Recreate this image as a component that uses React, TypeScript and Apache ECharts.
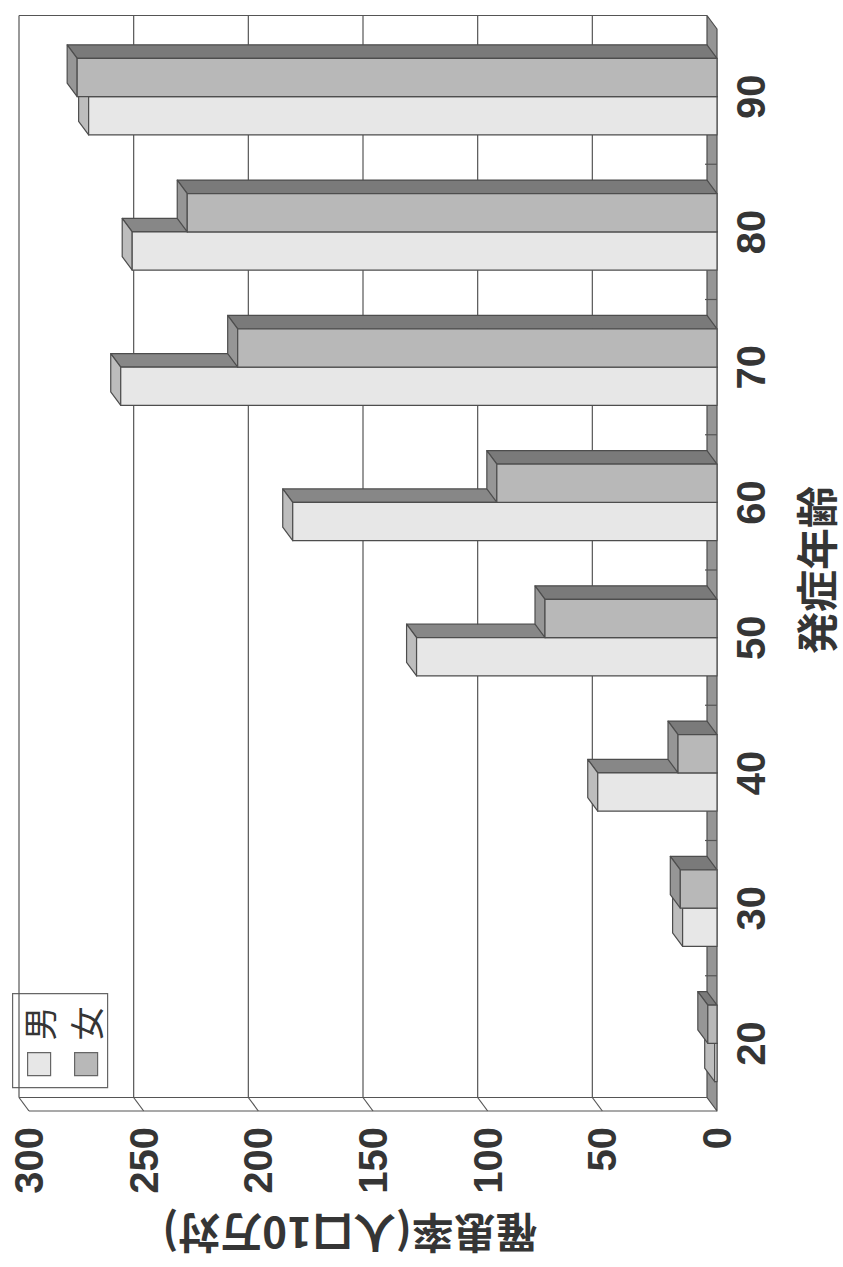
import { useEffect, useRef } from 'react';
import * as echarts from 'echarts';

// Incidence per 100,000 by age of onset
const ageGroups = ['20', '30', '40', '50', '60', '70', '80', '90'];
const maleRates = [1, 15, 52, 131, 185, 260, 255, 274];
const femaleRates = [4, 16, 17, 75, 96, 209, 231, 279];
const rateTicks = [0, 50, 100, 150, 200, 250, 300];
const seriesNames = ['男', '女'];
const ageTitle = '発症年齢';
const rateTitle = '罹患率(人口10万対)';

// oblique depth of the 3D box (towards the back wall)
const DX = -10;
const DY = -13.5;
const EDGE = '#4d4d4d';
const TEXT = '#353535';
const NUM_FONT = '"Liberation Sans", Arial, sans-serif';
const CJK_FONT = '"Noto Sans CJK JP", "Noto Sans", sans-serif';

const FACES = {
  male: { front: '#e7e7e7', end: '#bdbdbd', side: '#878787' },
  female: { front: '#b8b8b8', end: '#969696', side: '#7a7a7a' },
};

const edgeStyle = { stroke: EDGE, lineWidth: 1.2, lineJoin: 'round' as const };

function makeBarRenderer(upper: boolean, faces: { front: string; end: string; side: string }) {
  return (_params: any, api: any) => {
    const v = api.value(0);
    const cat = api.value(1);
    const base = api.coord([0, cat]);
    const tip = api.coord([v, cat]);
    const band = api.size([0, 1])[1];
    const h = band * 0.283;
    const top = upper ? base[1] - h : base[1];
    const bottom = top + h;
    const xr = base[0];
    const xl = tip[0];
    return {
      type: 'group',
      children: [
        {
          type: 'polygon',
          shape: { points: [[xl, top], [xr, top], [xr + DX, top + DY], [xl + DX, top + DY]] },
          style: { fill: faces.side, ...edgeStyle },
        },
        {
          type: 'polygon',
          shape: { points: [[xl, top], [xl, bottom], [xl + DX, bottom + DY], [xl + DX, top + DY]] },
          style: { fill: faces.end, ...edgeStyle },
        },
        {
          type: 'rect',
          shape: { x: xl, y: top, width: xr - xl, height: h },
          style: { fill: faces.front, ...edgeStyle },
        },
      ],
    };
  };
}

// back wall gridlines, side wall and the floor slab
function renderFrame(_params: any, api: any) {
  const band = api.size([0, 1])[1];
  const last = ageGroups.length - 1;
  const yTop = api.coord([0, last])[1] - band / 2;
  const yBot = api.coord([0, 0])[1] + band / 2;
  const xAt = (v: number) => api.coord([v, 0])[0];
  const x0 = xAt(0);
  const xMax = xAt(rateTicks[rateTicks.length - 1]);
  const gridStyle = { stroke: '#555555', lineWidth: 1.2 };
  const line = (x1: number, y1: number, x2: number, y2: number) => ({
    type: 'line',
    shape: { x1, y1, x2, y2 },
    style: gridStyle,
  });
  const children: any[] = [];
  children.push({
    type: 'polygon',
    shape: { points: [[x0 + DX, yTop + DY], [x0, yTop], [x0, yBot], [x0 + DX, yBot + DY]] },
    style: { fill: '#959595', ...edgeStyle },
  });
  rateTicks.forEach((v) => {
    if (v === 0) return;
    const x = xAt(v);
    children.push(line(x + DX, yTop + DY, x + DX, yBot + DY));
    children.push(line(x + DX, yBot + DY, x, yBot));
  });
  children.push(line(xMax + DX, yTop + DY, x0 + DX, yTop + DY));
  children.push(line(xMax + DX, yBot + DY, x0 + DX, yBot + DY));
  children.push(line(xMax, yBot, x0, yBot));
  for (let i = 0; i < last; i++) {
    const y = api.coord([0, i])[1] - band / 2;
    children.push(line(x0 - 12, y, x0, y));
  }
  return { type: 'group', children };
}

export default function App() {
  const ref = useRef<HTMLDivElement>(null);

  useEffect(() => {
    if (!ref.current) return;
    const chart = echarts.init(ref.current, undefined, { renderer: 'svg' });
    chart.setOption({
      animation: false,
      backgroundColor: '#ffffff',
      grid: { left: 29, right: 126, top: 29, bottom: 156, containLabel: false },
      xAxis: {
        type: 'value',
        inverse: true,
        min: 0,
        max: 300,
        interval: 50,
        axisLine: { show: false },
        axisTick: { show: false },
        splitLine: { show: false },
        axisLabel: {
          rotate: 90,
          margin: 16,
          fontSize: 40,
          fontWeight: 'bold',
          fontFamily: NUM_FONT,
          color: TEXT,
        },
      },
      yAxis: {
        type: 'category',
        data: ageGroups,
        position: 'right',
        axisLine: { show: false },
        axisTick: { show: false },
        splitLine: { show: false },
        axisLabel: {
          rotate: 90,
          margin: 14,
          fontSize: 40,
          fontWeight: 'bold',
          fontFamily: NUM_FONT,
          color: TEXT,
        },
        name: ageTitle,
        nameLocation: 'middle',
        nameRotate: 90,
        nameGap: 76,
        nameTextStyle: { fontSize: 42, fontWeight: 'bold', fontFamily: CJK_FONT, color: TEXT },
      },
      series: [
        {
          type: 'custom',
          z: 1,
          silent: true,
          data: [[0, 0]],
          encode: { x: 0, y: 1 },
          renderItem: renderFrame,
        },
        {
          type: 'custom',
          name: seriesNames[0],
          z: 2,
          data: maleRates.map((v, i) => [v, i]),
          encode: { x: 0, y: 1 },
          renderItem: makeBarRenderer(false, FACES.male),
        },
        {
          type: 'custom',
          name: seriesNames[1],
          z: 3,
          data: femaleRates.map((v, i) => [v, i]),
          encode: { x: 0, y: 1 },
          renderItem: makeBarRenderer(true, FACES.female),
        },
      ],
      graphic: [
        {
          type: 'text',
          x: 350,
          y: 1235,
          rotation: Math.PI,
          style: {
            text: rateTitle,
            fontSize: 42,
            fontWeight: 'bold',
            fontFamily: CJK_FONT,
            fill: TEXT,
            align: 'center',
            verticalAlign: 'middle',
          },
        },
        {
          type: 'group',
          left: 12,
          top: 993,
          z: 10,
          children: [
            {
              type: 'rect',
              shape: { x: 0, y: 0, width: 95, height: 94 },
              style: { fill: '#ffffff', stroke: '#666666', lineWidth: 1.2 },
            },
            {
              type: 'text',
              x: 26,
              y: 30,
              rotation: Math.PI / 2,
              style: {
                text: seriesNames[0],
                fontSize: 34,
                fontFamily: CJK_FONT,
                fill: TEXT,
                align: 'center',
                verticalAlign: 'middle',
              },
            },
            {
              type: 'text',
              x: 73,
              y: 30,
              rotation: Math.PI / 2,
              style: {
                text: seriesNames[1],
                fontSize: 34,
                fontFamily: CJK_FONT,
                fill: TEXT,
                align: 'center',
                verticalAlign: 'middle',
              },
            },
            {
              type: 'rect',
              shape: { x: 15, y: 59, width: 23, height: 23 },
              style: { fill: FACES.male.front, stroke: '#666666', lineWidth: 1.2 },
            },
            {
              type: 'rect',
              shape: { x: 62, y: 59, width: 23, height: 23 },
              style: { fill: FACES.female.front, stroke: '#666666', lineWidth: 1.2 },
            },
          ],
        },
      ],
    });
    return () => chart.dispose();
  }, []);

  return (
    <div
      ref={ref}
      style={{ position: 'absolute', left: 0, top: 0, width: 843, height: 1267, background: '#fff' }}
    />
  );
}
